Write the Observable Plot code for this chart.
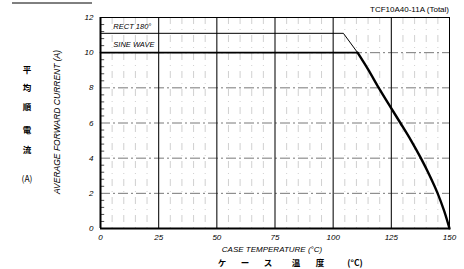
<!DOCTYPE html>
<html><head><meta charset="utf-8">
<script src="https://cdn.jsdelivr.net/npm/d3@7"></script>
<script src="https://cdn.jsdelivr.net/npm/@observablehq/plot@0.6"></script>
<style>
body{margin:0;background:#fff;}
#chart{position:relative;width:464px;height:269px;}
</style>
</head><body><div id="chart"></div>
<script>
// Data
const tempTicks = [0, 25, 50, 75, 100, 125, 150];
const currentTicks = [0, 2, 4, 6, 8, 10, 12];
const majorGridT = [25, 50, 75, 100, 125];
const minorGridT = [5, 10, 15, 20, 30, 35, 40, 45, 55, 60, 65, 70, 80, 85, 90, 95, 105, 110, 115, 120, 130, 135, 140, 145];
const gridI = [2, 4, 6, 8, 10];
const minorI = [0.4,0.8,1.2,1.6,2.4,2.8,3.2,3.6,4.4,4.8,5.2,5.6,6.4,6.8,7.2,7.6,8.4,8.8,9.2,9.6,10.4,10.8,11.2,11.6];
// RECT 180° flat part and transition
const rectT = [0, 104.4, 110.5];
const rectI = [11.1, 11.1, 10];
// SINE WAVE flat part
const sineT = [0, 110.5];
const sineI = [10, 10];
// derating curve (common)
const curveT = [110.5, 115, 119.6, 124.2, 128.9, 133.5, 137.7, 141.5, 144.9, 147.7, 150];
const curveI = [10, 9.05, 8, 7, 6, 5, 4, 3, 2, 1, 0];
const labels = ["RECT 180°", "SINE WAVE"];
const labelT = [5.5, 5.5];
const labelI = [11.5, 10.45];

const seg = (xs, ys) => xs.map((x, i) => ({x, y: ys[i]}));

const chart = Plot.plot({
  width: 464, height: 269,
  marginLeft: 100, marginRight: 15, marginTop: 17, marginBottom: 41,
  style: {fontFamily: "Liberation Sans, Arial, sans-serif", fontSize: "8px", fontStyle: "italic", color: "#000"},
  x: {domain: [0, 150]},
  y: {domain: [0, 12]},
  marks: [
    Plot.ruleX(minorGridT, {stroke: "#aaa", strokeWidth: 0.8, strokeDasharray: "7,5,1,5", strokeOpacity: 0.7}),
    Plot.ruleY(gridI, {stroke: "#555", strokeWidth: 0.8, strokeDasharray: "10,3,2,3"}),
    Plot.ruleX(majorGridT, {stroke: "#111", strokeWidth: 1.1}),
    Plot.ruleY(minorI, {x1: 0, x2: 1.8, stroke: "#222", strokeWidth: 0.8}),
    Plot.frame({stroke: "#000", strokeWidth: 1}),
    Plot.ruleX([0], {stroke: "#000", strokeWidth: 2}),
    Plot.ruleY([0], {stroke: "#000", strokeWidth: 2}),
    Plot.line(seg(rectT, rectI), {x: "x", y: "y", stroke: "#000", strokeWidth: 1}),
    Plot.line(seg(sineT, sineI), {x: "x", y: "y", stroke: "#000", strokeWidth: 1.6}),
    Plot.line(seg(curveT, curveI), {x: "x", y: "y", stroke: "#000", strokeWidth: 2.4, curve: "catmull-rom"}),
    Plot.text(labels, {x: (d, i) => labelT[i], y: (d, i) => labelI[i], text: d => d, textAnchor: "start", fontSize: 7.5, fontStyle: "italic"}),
    Plot.axisX(tempTicks, {tickSize: 0, tickPadding: 6, label: null}),
    Plot.axisY(currentTicks, {tickSize: 0, tickPadding: 7, label: null})
  ]
});

const svg = d3.select(chart);
svg.append("line").attr("x1", 12).attr("x2", 92).attr("y1", 3).attr("y2", 3).attr("stroke", "#000").attr("stroke-width", 1);
svg.append("text").attr("x", 449).attr("y", 12).attr("text-anchor", "end")
  .attr("font-size", 8).attr("font-style", "normal").text("TCF10A40-11A (Total)");
svg.append("text").attr("transform", "translate(60,122) rotate(-90)").attr("text-anchor", "middle")
  .attr("font-size", 8.5).attr("font-style", "italic").text("AVERAGE FORWARD CURRENT (A)");
svg.append("text").attr("x", 272).attr("y", 252).attr("text-anchor", "middle")
  .attr("font-size", 8).attr("font-style", "italic").text("CASE TEMPERATURE (°C)");
const jpX = [222, 245, 268, 296, 320, 355];
const jpS = ["ケ", "ー", "ス", "温", "度", "(°C)"];
jpS.forEach((s, i) => svg.append("text").attr("x", jpX[i]).attr("y", 266).attr("text-anchor", "middle")
  .attr("font-family", "Noto Sans CJK JP").attr("font-size", 8.5).attr("font-style", "normal").attr("font-weight", "bold").text(s));
const vY = [73, 91, 110, 133, 153];
const vS = ["平", "均", "順", "電", "流"];
vS.forEach((s, i) => svg.append("text").attr("x", 27).attr("y", vY[i]).attr("text-anchor", "middle")
  .attr("font-family", "Noto Sans CJK JP").attr("font-size", 8.5).attr("font-style", "normal").attr("font-weight", "bold").text(s));
svg.append("text").attr("x", 27).attr("y", 182).attr("text-anchor", "middle")
  .attr("font-family", "Noto Sans CJK JP").attr("font-size", 8.5).attr("font-style", "normal").text("(A)");

document.getElementById("chart").appendChild(chart);
</script>
</body></html>
